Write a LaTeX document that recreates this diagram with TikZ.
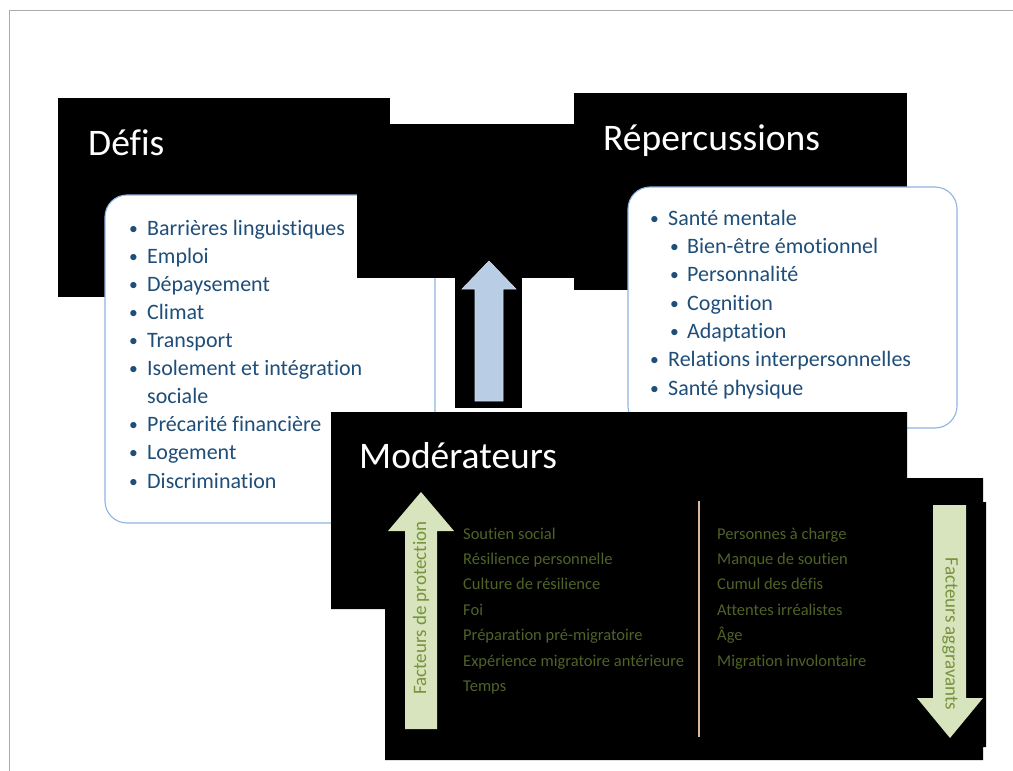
\documentclass[tikz,border=0pt]{standalone}
\usepackage{fontspec}
\setmainfont{Carlito}[Ligatures={NoCommon}]
\usepackage{tikz}
\definecolor{listblue}{RGB}{31, 78, 121}
\definecolor{boxblue}{RGB}{141, 180, 226}
\definecolor{arrowblue}{RGB}{185, 205, 229}
\definecolor{arrowgreen}{RGB}{215, 228, 189}
\definecolor{labelgreen}{RGB}{119, 147, 60}
\definecolor{itemgreen}{RGB}{79, 98, 40}
\definecolor{sepbeige}{RGB}{217, 185, 155}
\definecolor{framegray}{RGB}{175, 170, 170}

\tikzset{
  titletext/.style={text=white, font=\fontsize{37.5}{44}\selectfont, anchor=base west, inner sep=0pt},
  listbox/.style={draw=boxblue, fill=white, line width=1.1pt, rounded corners=22pt},
  listtext/.style={text=listblue, align=left, anchor=north west, inner sep=0pt},
  modtext/.style={text=itemgreen, font=\fontsize{16.5}{25.4}\selectfont, align=left, anchor=north west, inner sep=0pt},
  arrowtext/.style={text=labelgreen, font=\fontsize{19}{22}\selectfont, inner sep=0pt}
}
\newcommand{\bul}[1]{\makebox[#1][l]{\raisebox{0.1ex}{\scalebox{0.8}{\textbullet}}}}

\begin{document}
\begin{tikzpicture}[x=1pt, y=-1pt]
            \useasboundingbox (0,0) rectangle (1013,771);
            \fill[white] (0,0) rectangle (1013,771);
            \draw[framegray, line width=1pt] (9,771) -- (9,10) -- (1013,10);

            % Défis layer
            \fill[black] (58,98) rectangle (390,297);
            \filldraw[listbox] (105,195) rectangle (435,523);
            \fill[black] (357,124) rectangle (574,278);
            \fill[black] (455,278) rectangle (522,408);
            \node[titletext] (defis) at (88,155) {Défis};
            \node[listtext, font=\fontsize{22}{28.1}\selectfont] (defislist) at (129,215.3) {\strut\bul{18pt}Barrières linguistiques\\
              \bul{18pt}Emploi\\
              \bul{18pt}Dépaysement\\
              \bul{18pt}Climat\\
              \bul{18pt}Transport\\
              \bul{18pt}Isolement et intégration\\
              \hspace*{18pt}sociale\\
              \bul{18pt}Précarité financière\\
              \bul{18pt}Logement\\
              \bul{18pt}Discrimination};

            % Répercussions layer
            \fill[black] (574,93) rectangle (907,290);
            \filldraw[listbox] (628,187) rectangle (957,428);
            \node[titletext] (reperc) at (603,150) {Répercussions};
            \node[listtext, font=\fontsize{22}{28.33}\selectfont] (reperclist) at (650,205.2) {\strut\bul{18pt}Santé mentale\\
              \hspace*{20pt}\bul{17pt}Bien-être émotionnel\\
              \hspace*{20pt}\bul{17pt}Personnalité\\
              \hspace*{20pt}\bul{17pt}Cognition\\
              \hspace*{20pt}\bul{17pt}Adaptation\\
              \bul{18pt}Relations interpersonnelles\\
              \bul{18pt}Santé physique};

            % Arrow from Défis to Répercussions
            \filldraw[fill=arrowblue, draw=arrowblue!70!white, line width=0.6pt] (475,401) -- (475,289) -- (462,289) -- (489,261) -- (516,289) -- (503,289) -- (503,401) -- cycle;

            % Modérateurs layer
            \fill[black] (331,412) -- (907,412) -- (907,478) -- (983,478) -- (983,502) -- (986,502) -- (986,747) -- (983,747) -- (983,760) -- (385,760) -- (385,609) -- (331,609) -- cycle;
            \node[titletext] (moder) at (359,468) {Modérateurs};

            % Protection and aggravating factors
            \fill[arrowgreen] (405,729) -- (405,531) -- (388,531) -- (421,492) -- (454,531) -- (437,531) -- (437,729) -- cycle;
            \fill[arrowgreen] (933,505) -- (966,505) -- (966,698) -- (983,698) -- (950,738) -- (917,698) -- (933,698) -- cycle;
            \node[arrowtext, rotate=90] (protect) at (421,608) {Facteurs de protection};
            \node[arrowtext, rotate=-90] (aggrav) at (950,634) {Facteurs aggravants};
            \draw[sepbeige, line width=2.5pt] (699,501) -- (699,737);

            \node[modtext] (protectlist) at (463,521.2) {\strut Soutien social\\
              Résilience personnelle\\
              Culture de résilience\\
              Foi\\
              Préparation pré-migratoire\\
              Expérience migratoire antérieure\\
              Temps};
            \node[modtext] (aggravlist) at (717,521.2) {\strut Personnes à charge\\
              Manque de soutien\\
              Cumul des défis\\
              Attentes irréalistes\\
              Âge\\
              Migration involontaire};
        \end{tikzpicture}
\end{document}
